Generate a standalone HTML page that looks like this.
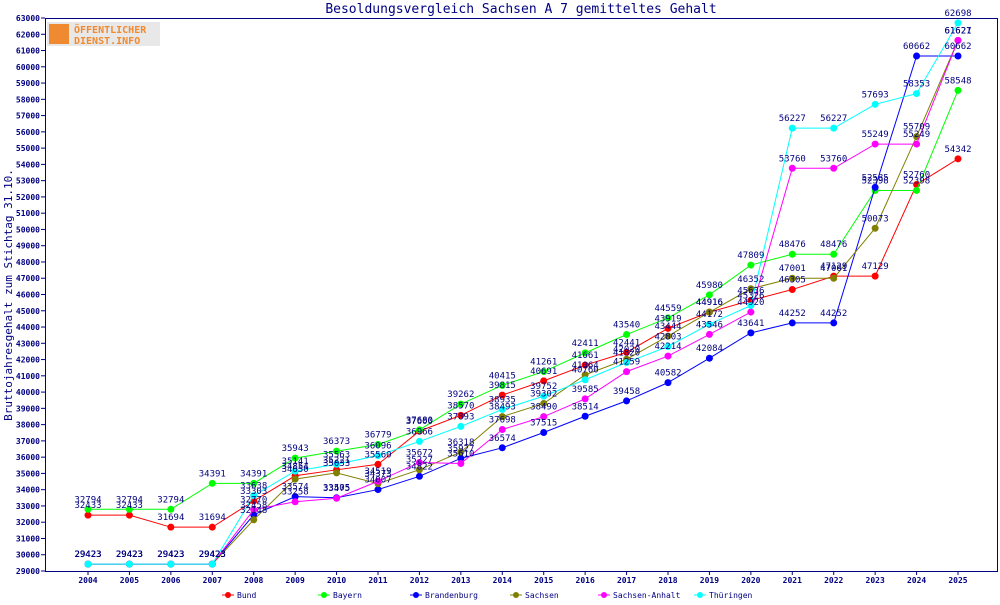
<!DOCTYPE html>
<html><head><meta charset="utf-8"><style>
body{margin:0;background:#fff;}
svg text{font-family:"DejaVu Sans Mono","Liberation Mono",monospace;}
</style></head><body>
<svg id="s" width="1000" height="600" xmlns="http://www.w3.org/2000/svg"></svg>
<script>
const s=document.getElementById('s');
let h='';
const X0=88,DX=870/21,Y0=571,YT=18,ymin=29000,ymax=63000;
const X=i=>X0+i*DX, Y=v=>Y0-(v-ymin)/(ymax-ymin)*(Y0-YT);
h+='<text x="521" y="13" font-size="13" fill="#000080" text-anchor="middle">Besoldungsvergleich Sachsen A 7 gemitteltes Gehalt</text>';
h+='<rect x="45.5" y="18.5" width="952" height="553" fill="#fff" stroke="#000080"/>';
for(let v=29000;v<=63000;v+=1000){const y=Y(v);h+=`<line x1="41" y1="${y}" x2="45" y2="${y}" stroke="#000080"/><text x="40" y="${y+3}" font-size="8" font-weight="bold" fill="#000080" text-anchor="end">${v}</text>`;}
for(let i=0;i<22;i++){const x=X(i);h+=`<line x1="${x}" y1="571" x2="${x}" y2="575" stroke="#000080"/><text x="${x}" y="583" font-size="8" font-weight="bold" fill="#000080" text-anchor="middle">${2004+i}</text>`;}
h+='<text transform="translate(12,295) rotate(-90)" font-size="11" fill="#000080" text-anchor="middle">Bruttojahresgehalt zum Stichtag 31.10.</text>';
h+='<rect x="47" y="22" width="113" height="24" fill="#e8e8e8"/><rect x="49" y="24" width="20" height="20" fill="#f08a30"/><text x="74" y="33" font-size="10" font-weight="bold" fill="#f08a30" font-family="Liberation Sans">ÖFFENTLICHER</text><text x="74" y="44" font-size="10" font-weight="bold" fill="#f08a30" font-family="Liberation Sans">DIENST.INFO</text>';
const S=[
["Bund","#ff0000",[32433,32433,31694,31694,33303,34854,35221,35560,37600,38570,39815,40691,41661,42441,43919,44916,45636,46305,47129,47129,52760,54342]],
["Bayern","#00ff00",[32794,32794,32794,34391,34391,35943,36373,36779,37680,39262,40415,41261,42411,43540,44559,45980,47809,48476,48476,52398,52398,58548]],
["Brandenburg","#0000ff",[29423,29423,29423,29423,32458,33574,33505,34007,34822,35927,36574,37515,38514,39458,40582,42084,43641,44252,44252,52585,60662,60662]],
["Sachsen","#808000",[29423,29423,29423,29423,32148,34650,35033,34373,35227,36318,38493,39302,41064,42020,43444,44916,46352,47001,47001,50073,55709,61627]],
["Sachsen-Anhalt","#ff00ff",[29423,29423,29423,29423,32770,33258,33475,34519,35672,35610,37698,38490,39585,41259,42214,43546,44920,53760,53760,55249,55249,61621]],
["Thüringen","#00ffff",[29423,29423,29423,29423,33638,35141,35563,36096,36966,37893,38935,39752,40760,41820,42803,44172,45326,56227,56227,57693,58353,62698]]];
let lbl='';
const lx=[222,318,410,510,598,694];
S.forEach((sr,k)=>{const [n,c,d]=sr;
h+=`<polyline fill="none" stroke="${c}" stroke-width="1" points="${d.map((v,i)=>X(i)+','+Y(v)).join(' ')}"/>`;
d.forEach((v,i)=>{const x=X(i),y=Y(v);h+=`<circle cx="${x}" cy="${y}" r="3.5" fill="${c}"/>`;lbl+=`<text x="${x}" y="${y-7}" font-size="9" fill="#000080" text-anchor="middle">${v}</text>`;});
const x=lx[k];h+=`<line x1="${x}" y1="595" x2="${x+12}" y2="595" stroke="${c}"/><circle cx="${x+6}" cy="595" r="3" fill="${c}"/><text x="${x+15}" y="598" font-size="8" fill="#000080">${n}</text>`;});
h+=lbl;
s.innerHTML=h;
</script>
</body></html>
